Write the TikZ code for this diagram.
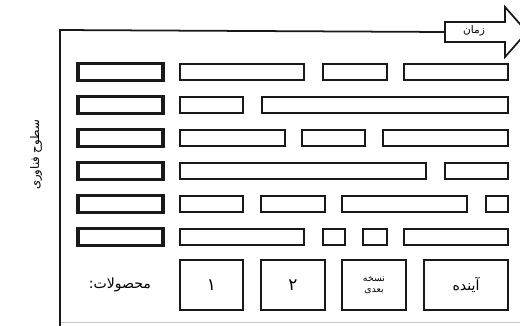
\documentclass[tikz,border=0pt]{standalone}
\usepackage{fontspec}
\usetikzlibrary{positioning}
\newfontfamily\fafont[Script=Arabic]{DejaVu Sans}
\TeXXeTstate=1
\definecolor{barline}{RGB}{25,25,25}
\definecolor{framegray}{RGB}{200,200,200}
\tikzset{
  bw/.style={minimum width=#1*0.03cm},
  bar/.style={draw=barline, line width=1.6pt, anchor=west, inner sep=0pt, outer sep=0pt,
              minimum height=0.5cm},
  lvl/.style={bar, line width=2.6pt},
  prod/.style={draw=barline, line width=2.2pt, anchor=west, inner sep=0pt, outer sep=0pt,
               minimum height=1.5cm, font=\fafont\Large, align=center},
  axis/.style={barline, line width=1.5pt},
}

\begin{document}
\begin{tikzpicture}[x=0.03cm, y=-0.03cm]
        \useasboundingbox (0,0) rectangle (520,325);
        % frame and time arrow
        \coordinate (org) at (60,30);
        \coordinate (down) at (60,330);
        \coordinate (tin) at (445,32);
        \draw[axis] (down) -- (org) -- (tin);
        \draw[axis] (445,22) -- (505,22) -- (505,7) -- (527,32) -- (505,57) -- (505,42) -- (445,42) -- cycle;
        \node[font=\fafont\small] (time) at (474,31) {\beginR زمان\endR};
        \draw[framegray, line width=0.8pt] (61,322) -- (520,322);
        \node[font=\fafont\normalsize, rotate=90] (levels) at (36,155) {\beginR سطوح فناوری\endR};
        % row 1
        \node[lvl, bw=85] (a1) at (78,72) {};
        \node[bar, bw=124] (a2) at (180,72) {};
        \node[bar, bw=64] (a3) at (323,72) {};
        \node[bar, bw=104] (a4) at (404,72) {};
        % row 2
        \node[lvl, bw=85] (b1) at (78,105) {};
        \node[bar, bw=63] (b2) at (180,105) {};
        \node[bar, bw=246] (b3) at (262,105) {};
        % row 3
        \node[lvl, bw=85] (c1) at (78,138) {};
        \node[bar, bw=105] (c2) at (180,138) {};
        \node[bar, bw=63] (c3) at (302,138) {};
        \node[bar, bw=125] (c4) at (383,138) {};
        % row 4
        \node[lvl, bw=85] (d1) at (78,171) {};
        \node[bar, bw=246] (d2) at (180,171) {};
        \node[bar, bw=63] (d3) at (445,171) {};
        % row 5
        \node[lvl, bw=85] (e1) at (78,204) {};
        \node[bar, bw=63] (e2) at (180,204) {};
        \node[bar, bw=64] (e3) at (261,204) {};
        \node[bar, bw=125] (e4) at (342,204) {};
        \node[bar, bw=22] (e5) at (486,204) {};
        % row 6
        \node[lvl, bw=85] (f1) at (78,237) {};
        \node[bar, bw=124] (f2) at (180,237) {};
        \node[bar, bw=22] (f3) at (323,237) {};
        \node[bar, bw=24] (f4) at (363,237) {};
        \node[bar, bw=104] (f5) at (404,237) {};
        % products
        \node[font=\fafont\large] (plab) at (120,285) {\beginR محصولات:\endR};
        \node[prod, bw=63] (p1) at (180,285) {۱};
        \node[prod, bw=64] (p2) at (261,285) {۲};
        \node[prod, bw=64, font=\fafont\footnotesize] (p3) at (342,285) {\beginR نسخه\endR\\\beginR بعدی\endR};
        \node[prod, bw=84, font=\fafont\large] (p4) at (424,285) {\beginR آینده\endR};
      \end{tikzpicture}
\end{document}
